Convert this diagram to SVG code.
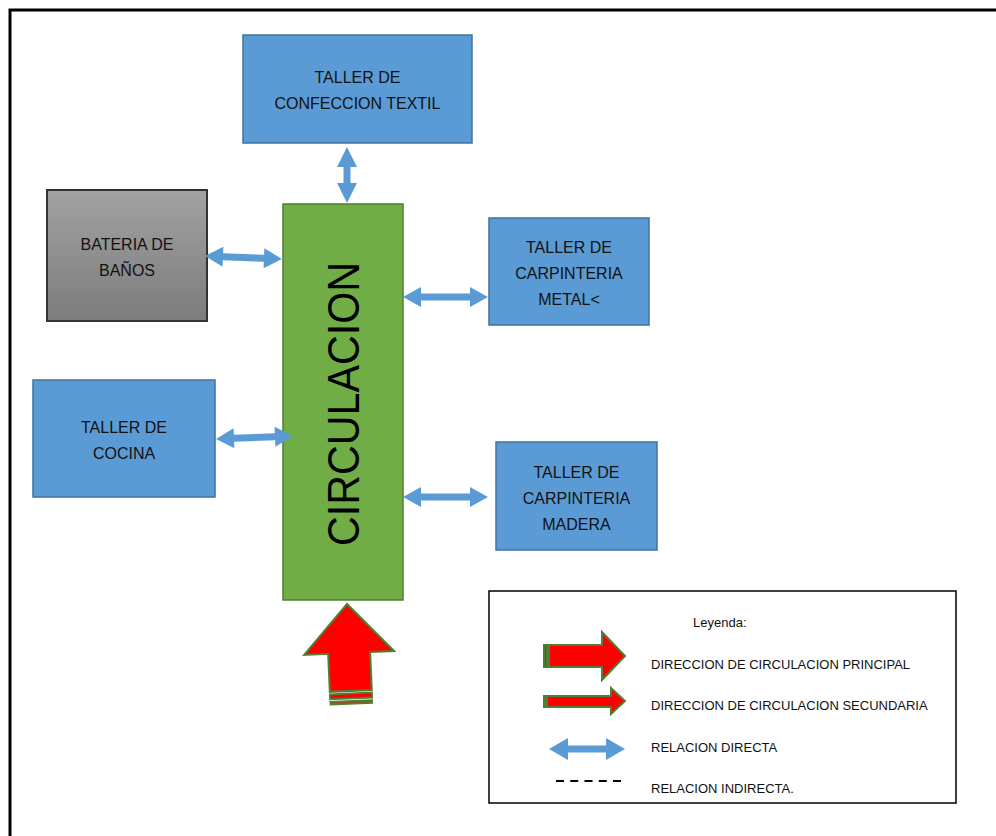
<svg xmlns="http://www.w3.org/2000/svg" width="996" height="836" viewBox="0 0 996 836">
<defs>
<linearGradient id="gray" x1="0" y1="0" x2="0" y2="1">
<stop offset="0" stop-color="#a2a2a2"/>
<stop offset="1" stop-color="#7c7c7c"/>
</linearGradient>
<style>
.box{fill:#5b9bd5;stroke:#41719c;stroke-width:1.5}
.t{font-family:"Liberation Sans",Arial,sans-serif;font-size:16px;fill:#111;text-anchor:middle}
.lt{font-family:"Liberation Sans",Arial,sans-serif;font-size:13px;fill:#111}
.ba{fill:#5b9bd5;stroke:none}
.ra{fill:#ff0000;stroke:#507e32;stroke-width:2;stroke-linejoin:miter}
</style>
</defs>
<rect width="996" height="836" fill="#fff"/>
<path d="M10,836 V10 H996" fill="none" stroke="#000" stroke-width="3"/>

<g id="textil">
<rect class="box" x="243" y="35" width="229" height="108"/>
<text class="t" x="357.5" y="83">TALLER DE</text>
<text class="t" x="357.5" y="109">CONFECCION TEXTIL</text>
</g>

<g id="banos">
<rect x="47" y="190" width="160" height="131" fill="url(#gray)" stroke="#333" stroke-width="2"/>
<text class="t" x="127" y="250">BATERIA DE</text>
<text class="t" x="127" y="276">BAÑOS</text>
</g>

<g id="circulacion">
<rect x="283" y="204" width="120" height="396" fill="#70ad47" stroke="#507e32" stroke-width="1.5"/>
<text transform="translate(359,404) rotate(-90)" x="0" y="0" font-family="Liberation Sans,Arial,sans-serif" font-size="44" fill="#000" text-anchor="middle" textLength="284" lengthAdjust="spacingAndGlyphs">CIRCULACION</text>
</g>

<g id="metal">
<rect class="box" x="489" y="218" width="160" height="107"/>
<text class="t" x="569" y="253">TALLER DE</text>
<text class="t" x="569" y="279">CARPINTERIA</text>
<text class="t" x="569" y="305">METAL&lt;</text>
</g>

<g id="cocina">
<rect class="box" x="33" y="380" width="182" height="117"/>
<text class="t" x="124" y="433">TALLER DE</text>
<text class="t" x="124" y="459">COCINA</text>
</g>

<g id="madera">
<rect class="box" x="496" y="442" width="161" height="108"/>
<text class="t" x="576.5" y="478">TALLER DE</text>
<text class="t" x="576.5" y="504">CARPINTERIA</text>
<text class="t" x="576.5" y="530">MADERA</text>
</g>

<g id="connectors">
<polygon class="ba" transform="translate(347,147) rotate(90)" points="0,0 20,-10 20,-3.5 36,-3.5 36,-10 56,0 36,10 36,3.5 20,3.5 20,10"/>
<polygon class="ba" transform="translate(205,256) rotate(2.2)" points="0,0 18,-10 18,-3.5 59,-3.5 59,-10 77,0 59,10 59,3.5 18,3.5 18,10"/>
<polygon class="ba" transform="translate(216,439) rotate(-2.2)" points="0,0 18,-10 18,-3.5 59,-3.5 59,-10 77,0 59,10 59,3.5 18,3.5 18,10"/>
<polygon class="ba" transform="translate(403,297)" points="0,0 18,-10 18,-3.5 67,-3.5 67,-10 85,0 67,10 67,3.5 18,3.5 18,10"/>
<polygon class="ba" transform="translate(403,497)" points="0,0 18,-10 18,-3.5 67,-3.5 67,-10 85,0 67,10 67,3.5 18,3.5 18,10"/>
</g>

<g id="entrada" transform="translate(347,604) rotate(-2.5)">
<polygon class="ra" points="0,0 45,49 21,49 21,87 -21,87 -21,49 -45,49"/>
<rect class="ra" x="-21" y="89.5" width="42" height="5"/>
<rect x="-21" y="97" width="42" height="3" fill="#8a5a2b" stroke="#507e32" stroke-width="1.5"/>
</g>

<g id="leyenda">
<rect x="489" y="591" width="467" height="212" fill="#fff" stroke="#000" stroke-width="1.5"/>
<text class="lt" x="693" y="627" font-size="14">Leyenda:</text>
<rect class="ra" x="544" y="645" width="3" height="22"/>
<polygon class="ra" points="549,645 602,645 602,632 625,656 602,680 602,667 549,667"/>
<text class="lt" x="651" y="669">DIRECCION DE CIRCULACION PRINCIPAL</text>
<rect class="ra" x="544" y="696" width="2" height="11"/>
<polygon class="ra" points="547,696 611,696 611,688 625,701 611,714 611,707 547,707"/>
<text class="lt" x="651" y="710">DIRECCION DE CIRCULACION SECUNDARIA</text>
<polygon class="ba" transform="translate(549,749)" points="0,0 19,-11 19,-3.5 57,-3.5 57,-11 76,0 57,11 57,3.5 19,3.5 19,11"/>
<text class="lt" x="651" y="752">RELACION DIRECTA</text>
<line x1="556" y1="781" x2="621" y2="781" stroke="#000" stroke-width="2" stroke-dasharray="8 6.25"/>
<text class="lt" x="651" y="793">RELACION INDIRECTA.</text>
</g>
</svg>
